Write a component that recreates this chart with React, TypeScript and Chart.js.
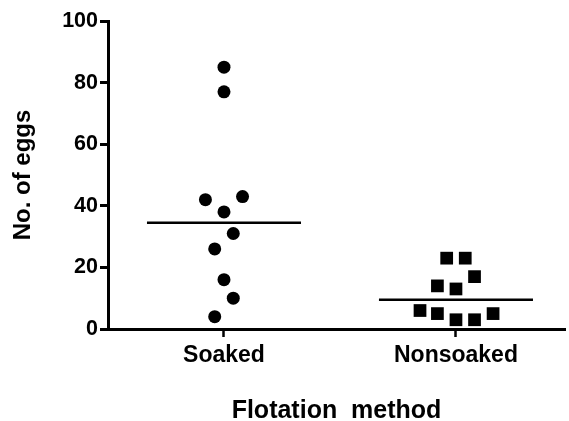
import React, { useEffect, useRef } from "react";
import { Chart, registerables } from "chart.js";

Chart.register(...registerables);

// Categories on the x axis
const categories = ["Soaked", "Nonsoaked"];

// Egg counts per sample
const soakedValues = [85, 77, 42, 43, 38, 31, 26, 16, 10, 4];
const nonsoakedValues = [23, 23, 17, 14, 13, 6, 5, 3, 3, 5];

// Horizontal spread of each point around its category (category units)
const soakedSpread = [0, 0, -0.08, 0.08, 0, 0.04, -0.04, 0, 0.04, -0.04];
const nonsoakedSpread = [-0.04, 0.04, 0.08, -0.08, 0, -0.155, -0.08, 0, 0.08, 0.16];

// Y axis tick values
const yTicks = [0, 20, 40, 60, 80, 100];

const FONT = "'Liberation Sans', Arial, Helvetica, sans-serif";

function median(values: number[]): number {
  const s = [...values].sort((a, b) => a - b);
  const m = Math.floor(s.length / 2);
  return s.length % 2 ? s[m] : (s[m - 1] + s[m]) / 2;
}

function medianLine(center: number, values: number[]) {
  const m = median(values);
  return [
    { x: center - 0.332, y: m },
    { x: center + 0.332, y: m },
  ];
}

export default function App() {
  const canvasRef = useRef<HTMLCanvasElement | null>(null);

  useEffect(() => {
    const canvas = canvasRef.current;
    if (!canvas) return;

    const chart = new Chart(canvas, {
      type: "scatter",
      data: {
        datasets: [
          {
            label: categories[0],
            data: soakedValues.map((v, i) => ({ x: 1 + soakedSpread[i], y: v })),
            pointStyle: "circle",
            pointRadius: 6.5,
            pointBorderWidth: 0,
            backgroundColor: "#000",
            borderColor: "#000",
          },
          {
            label: categories[1],
            data: nonsoakedValues.map((v, i) => ({ x: 2 + nonsoakedSpread[i], y: v })),
            pointStyle: "rect",
            pointRadius: 9,
            pointBorderWidth: 0,
            backgroundColor: "#000",
            borderColor: "#000",
          },
          {
            type: "line",
            label: "Soaked median",
            data: medianLine(1, soakedValues),
            borderColor: "#000",
            borderWidth: 2.5,
            pointRadius: 0,
            showLine: true,
          },
          {
            type: "line",
            label: "Nonsoaked median",
            data: medianLine(2, nonsoakedValues),
            borderColor: "#000",
            borderWidth: 2.5,
            pointRadius: 0,
            showLine: true,
          },
        ],
      },
      options: {
        responsive: false,
        animation: false,
        maintainAspectRatio: false,
        layout: { autoPadding: false, padding: { top: 21, right: 4, left: 0, bottom: 0 } },
        plugins: {
          legend: { display: false },
          tooltip: { enabled: false },
        },
        scales: {
          x: {
            type: "linear",
            min: 0.5,
            max: 2.47,
            afterBuildTicks: (scale: any) => {
              scale.ticks = categories.map((_, i) => ({ value: i + 1 }));
            },
            afterFit: (scale: any) => {
              scale.height = 92;
              scale.paddingLeft = 0;
              scale.paddingRight = 0;
            },
            ticks: {
              callback: (value: any) => categories[Number(value) - 1] ?? "",
              color: "#000",
              padding: 5,
              maxRotation: 0,
              autoSkip: false,
              font: { family: FONT, size: 23, weight: "bold" },
            },
            grid: {
              display: true,
              drawOnChartArea: false,
              drawTicks: true,
              tickLength: 8,
              tickWidth: 2.5,
              tickColor: "#000",
            },
            border: { display: true, color: "#000", width: 3 },
            title: {
              display: true,
              text: "Flotation  method",
              color: "#000",
              font: { family: FONT, size: 25, weight: "bold", lineHeight: 0.76 },
              padding: { top: 0, bottom: 0 },
            },
          },
          y: {
            type: "linear",
            min: 0,
            max: 100,
            afterBuildTicks: (scale: any) => {
              scale.ticks = yTicks.map((v) => ({ value: v }));
            },
            afterFit: (scale: any) => {
              scale.width = 108;
            },
            ticks: {
              color: "#000",
              padding: 2,
              font: { family: FONT, size: 21.5, weight: "bold" },
            },
            grid: {
              display: true,
              drawOnChartArea: false,
              drawTicks: true,
              tickLength: 8,
              tickWidth: 3,
              tickColor: "#000",
            },
            border: { display: true, color: "#000", width: 3 },
            title: {
              display: true,
              text: "No. of eggs",
              color: "#000",
              font: { family: FONT, size: 24, weight: "bold", lineHeight: 1.2 },
              padding: { top: 9, bottom: 0 },
            },
          },
        },
      } as any,
    });

    return () => chart.destroy();
  }, []);

  return (
    <div
      style={{
        position: "absolute",
        left: 0,
        top: 0,
        width: 569,
        height: 421,
        background: "#fff",
      }}
    >
      <canvas ref={canvasRef} width={569} height={421} style={{ display: "block" }} />
    </div>
  );
}
